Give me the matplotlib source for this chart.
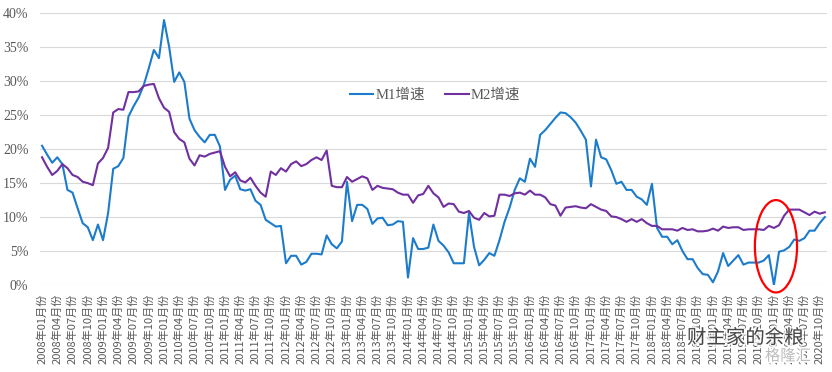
import matplotlib
matplotlib.use("Agg")
import matplotlib.pyplot as plt
import matplotlib.patheffects as pe
from matplotlib.patches import Ellipse
from matplotlib.ticker import PercentFormatter

# monthly yoy growth (%), 2008-01 .. 2020-11, one row per year
m1 = [
    20.5, 19.2, 18.0, 18.8, 17.8, 14.0, 13.6, 11.3, 9.1, 8.5, 6.6, 8.9,      # 2008
    6.6, 10.6, 17.1, 17.5, 18.7, 24.8, 26.3, 27.6, 29.4, 31.9, 34.6, 33.4,   # 2009
    39.0, 35.1, 29.9, 31.3, 29.9, 24.5, 22.8, 21.8, 21.0, 22.1, 22.1, 20.4,  # 2010
    14.0, 15.5, 16.1, 14.1, 13.9, 14.1, 12.4, 11.8, 9.6, 9.1, 8.6, 8.7,      # 2011
    3.2, 4.3, 4.3, 3.0, 3.4, 4.6, 4.6, 4.5, 7.3, 6.0, 5.4, 6.4,              # 2012
    15.2, 9.4, 11.8, 11.8, 11.2, 9.0, 9.8, 9.9, 8.8, 8.9, 9.4, 9.3,          # 2013
    1.1, 6.9, 5.3, 5.3, 5.5, 8.9, 6.5, 5.8, 4.8, 3.2, 3.2, 3.2,              # 2014
    10.6, 5.6, 2.9, 3.7, 4.7, 4.3, 6.6, 9.3, 11.4, 14.0, 15.7, 15.2,         # 2015
    18.6, 17.4, 22.1, 22.8, 23.7, 24.6, 25.4, 25.3, 24.7, 23.9, 22.7, 21.4,  # 2016
    14.5, 21.4, 18.8, 18.5, 16.9, 14.9, 15.2, 14.0, 14.0, 13.0, 12.6, 11.8,  # 2017
    14.9, 8.4, 7.1, 7.1, 6.0, 6.6, 5.0, 3.8, 3.8, 2.5, 1.6, 1.5,             # 2018
    0.4, 2.0, 4.7, 2.8, 3.6, 4.4, 3.0, 3.3, 3.3, 3.3, 3.6, 4.4,              # 2019
    0.0, 4.9, 5.1, 5.6, 6.7, 6.5, 6.9, 8.0, 8.0, 9.1, 10.0,                  # 2020
]
m2 = [
    18.8, 17.4, 16.2, 16.8, 17.8, 17.2, 16.2, 15.9, 15.2, 15.0, 14.7, 17.9,  # 2008
    18.7, 20.2, 25.4, 25.9, 25.8, 28.4, 28.4, 28.5, 29.3, 29.5, 29.6, 27.5,  # 2009
    26.1, 25.5, 22.5, 21.5, 21.0, 18.6, 17.6, 19.1, 18.9, 19.3, 19.5, 19.7,  # 2010
    17.4, 16.0, 16.6, 15.4, 15.1, 15.8, 14.6, 13.6, 13.0, 16.7, 16.2, 17.2,  # 2011
    16.7, 17.8, 18.2, 17.5, 17.8, 18.4, 18.8, 18.4, 19.8, 14.6, 14.4, 14.4,  # 2012
    15.9, 15.2, 15.6, 16.0, 15.7, 14.0, 14.6, 14.3, 14.2, 14.1, 13.6, 13.3,  # 2013
    13.3, 12.1, 13.2, 13.4, 14.6, 13.5, 12.9, 11.5, 12.0, 11.9, 10.8, 10.6,  # 2014
    10.9, 9.9, 9.6, 10.6, 10.1, 10.2, 13.3, 13.3, 13.1, 13.5, 13.6, 13.3,    # 2015
    13.9, 13.3, 13.3, 12.9, 11.9, 11.7, 10.2, 11.4, 11.5, 11.6, 11.4, 11.3,  # 2016
    11.9, 11.5, 11.1, 10.9, 10.1, 10.0, 9.7, 9.3, 9.7, 9.3, 9.7, 9.1,        # 2017
    8.7, 8.7, 8.2, 8.2, 8.2, 8.0, 8.4, 8.1, 8.2, 7.9, 7.9, 8.0,              # 2018
    8.3, 8.0, 8.6, 8.4, 8.5, 8.5, 8.1, 8.2, 8.2, 8.2, 8.1, 8.7,              # 2019
    8.4, 8.8, 10.2, 11.1, 11.1, 11.1, 10.7, 10.3, 10.8, 10.5, 10.7,          # 2020
]
months = [f"{y}年{m:02d}月份" for y in range(2008, 2021) for m in range(1, 13)][:len(m1)]

BLUE = "#1C7CCB"
PURPLE = "#7030A0"
GREY = "#595959"
CJK = ["Noto Sans CJK SC", "DejaVu Sans"]
SERIF = ["Liberation Serif", "Noto Sans CJK SC"]

plt.rcParams["font.family"] = CJK

fig = plt.figure(figsize=(8.32, 3.72), dpi=100)
ax = fig.add_axes([39.5 / 832, 1 - 285 / 372, (827.3 - 39.5) / 832, (285 - 13.3) / 372])

x = list(range(len(m1)))
ax.plot(x, [v / 100 for v in m1], color=BLUE, lw=1.5, label="M1增速")
ax.plot(x, [v / 100 for v in m2], color=PURPLE, lw=1.5, label="M2增速")

ax.set_xlim(-0.5, len(m1) - 0.5)
ax.set_ylim(0, 0.40)
ax.set_yticks([i * 0.05 for i in range(9)])
ax.yaxis.set_major_formatter(PercentFormatter(1.0, decimals=0))
ax.grid(axis="y", color="#D9D9D9", lw=0.8)
ax.set_axisbelow(True)
for s in ax.spines.values():
    s.set_visible(False)

ax.set_xticks(x[::3])
ax.set_xticklabels(months[::3], rotation=90, fontsize=8, color=GREY, va="top")
ax.tick_params(axis="x", length=0, pad=6)
ax.tick_params(axis="y", length=0, pad=8, labelsize=10, labelcolor=GREY)
for t in ax.get_yticklabels():
    t.set_family(SERIF)

leg = ax.legend(loc="center", bbox_to_anchor=(0.502, 0.699), ncol=2, frameon=False,
                prop={"family": SERIF, "size": 10.5}, handlelength=1.6,
                handletextpad=0.15, columnspacing=1.4)
for t in leg.get_texts():
    t.set_color(GREY)

# red ring around the Jan-2020 dip (runs slightly below the plot area)
ax.add_patch(Ellipse((144.4, 0.057), width=8.3, height=0.136, fill=False,
                     edgecolor="red", lw=1.6, zorder=5, clip_on=False))

# watermarks drawn over the tick labels, as in the source image
halo = [pe.withStroke(linewidth=2.5, foreground="white")]
fig.text(687 / 832, 1 - 338 / 372, "财主家的余粮", fontsize=14, color="#222222",
         alpha=0.8, va="center", ha="left", path_effects=halo, zorder=10)
fig.text(765 / 832, 1 - 356 / 372, "格隆汇", fontsize=11, color="#BBBBBB",
         va="center", ha="left", path_effects=halo, zorder=10)

fig.savefig("out.png", dpi=100)
